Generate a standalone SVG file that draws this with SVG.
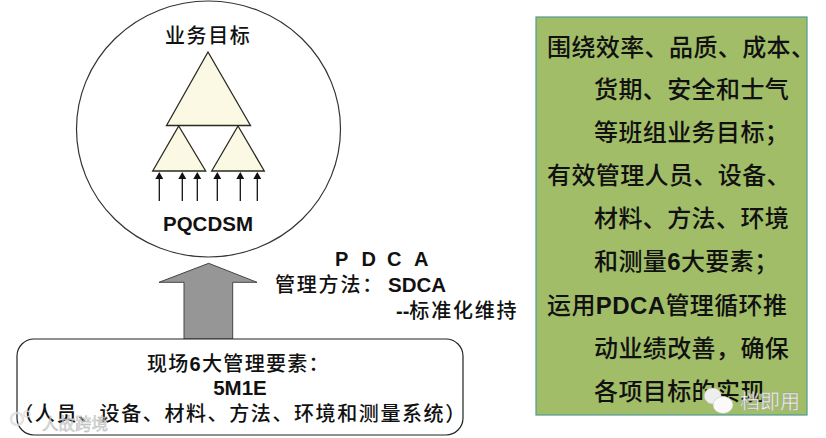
<svg xmlns="http://www.w3.org/2000/svg" width="826" height="438" viewBox="0 0 826 438">
<style>
text{font-family:"Liberation Sans","Noto Sans CJK SC",sans-serif;fill:#111}
.b{font-weight:700}
.t{font-size:20px;font-weight:500}
.g{font-size:24px;font-weight:500;letter-spacing:.4px}
.m{font-size:20px;font-weight:500}
.tri{fill:#fbf8e4;stroke:#2a2a20;stroke-width:1.3}
.in{stroke:#111;stroke-width:1.3;fill:none;marker-end:url(#ah)}
.wm{fill:#f4f4f4;stroke:#999;stroke-width:.4}
</style>
<defs><marker id="ah" markerUnits="userSpaceOnUse" markerWidth="7" markerHeight="8" refX="0" refY="4" orient="auto" viewBox="0 0 7 8"><path d="M0 0L7 4L0 8Z" fill="#111"/></marker></defs>
<rect width="826" height="438" fill="#fff"/>
<g id="goal-circle">
<ellipse cx="208.500" cy="129" rx="132" ry="128" fill="#fff" stroke="#333" stroke-width="1.200"/>
<text class="t" x="165" y="43" letter-spacing="1.600">业务目标</text>
</g>
<g id="triangle-top"><path class="tri" d="M208 52L250.500 125.500H166.500Z"/></g>
<g id="triangle-left"><path class="tri" d="M178.700 126L205.700 171H152.700Z"/></g>
<g id="triangle-right"><path class="tri" d="M238 126L264.300 171H211.700Z"/></g>
<g id="connectors">
<path class="in" d="M159.300 201V179"/><path class="in" d="M182.300 201V179"/><path class="in" d="M197.300 201V179"/>
<path class="in" d="M217.300 201V179"/><path class="in" d="M240.300 201V179"/><path class="in" d="M257.300 201V179"/>
</g>
<g id="pqcdsm"><text class="b" x="208" y="231" font-size="20.500" text-anchor="middle">PQCDSM</text></g>
<g id="up-arrow"><path d="M208.700 263.300L257 282.300H232.700V339H184V282.300H159Z" fill="#969696" stroke="#444" stroke-width="1"/></g>
<g id="method">
<text class="b" x="335" y="266" font-size="20">P</text>
<text class="b" x="361.500" y="266" font-size="20">D</text>
<text class="b" x="387" y="266" font-size="20">C</text>
<text class="b" x="414" y="266" font-size="20">A</text>
<text class="m" x="275" y="292" letter-spacing="1.800">管理方法：</text>
<text class="b" x="388" y="292" font-size="20.500">SDCA</text>
<text class="m" x="396" y="318" letter-spacing="1.800"><tspan class="b" letter-spacing="0">--</tspan>标准化维持</text>
</g>
<g id="elements">
<rect x="17" y="339" width="446" height="96" rx="17" ry="17" fill="#fff" stroke="#222" stroke-width="1.200"/>
<text class="m" x="147" y="371" letter-spacing="1.300">现场<tspan class="b">6</tspan>大管理要素：</text>
<text class="b" x="240" y="395" font-size="20.500" text-anchor="middle">5M1E</text>
<text class="m" x="240" y="421" text-anchor="middle" letter-spacing="1.600">（人员、设备、材料、方法、环境和测量系统）</text>
</g>
<g id="summary">
<rect x="536" y="17" width="271" height="398" fill="#a2bd68" stroke="#4f9a94" stroke-width="1.200"/>
<text class="g" x="547" y="56">围绕效率、品质、成本、</text>
<text class="g" x="594" y="98">货期、安全和士气</text>
<text class="g" x="594" y="141">等班组业务目标；</text>
<text class="g" x="547" y="184">有效管理人员、设备、</text>
<text class="g" x="594" y="227">材料、方法、环境</text>
<text class="g" x="594" y="270">和测量<tspan class="b">6</tspan>大要素；</text>
<text class="g" x="547" y="314">运用<tspan class="b">PDCA</tspan>管理循环推</text>
<text class="g" x="594" y="357">动业绩改善，确保</text>
<text class="g" x="594" y="400">各项目标的实现</text>
</g>
<g id="watermark-left" opacity=".8">
<circle cx="17" cy="419" r="6" fill="none" stroke="#ddd" stroke-width="2.500"/>
<circle cx="27" cy="414" r="3" fill="none" stroke="#ddd" stroke-width="1.500"/>
<text x="42" y="430" font-size="16.500" class="wm" style="fill:#ddd">人故跨境</text>
</g>
<g id="watermark-right">
<ellipse cx="712.700" cy="396" rx="8.500" ry="8" fill="#eee" stroke="#bbb" stroke-width=".5"/>
<ellipse cx="723" cy="405" rx="10" ry="8.500" fill="#fafafa" stroke="#bbb" stroke-width=".5"/>
<text x="740" y="409" font-size="20" class="wm">档即用</text>
</g>
</svg>
